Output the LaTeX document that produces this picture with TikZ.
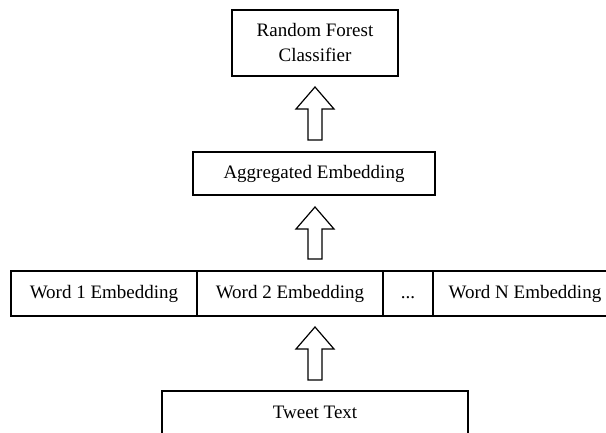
\documentclass[tikz,border=0pt]{standalone}
\usepackage{fontspec}
\setmainfont{Liberation Serif}
\usetikzlibrary{positioning,calc}
\tikzset{
  box/.style={draw,line width=1.2pt,outer sep=0pt,inner sep=2pt,align=center},
  cell/.style={box,minimum height=45pt,text height=13pt,text depth=4pt},
  hollowup/.style={draw,line width=1.2pt,line join=miter,
    to path={($(\tikztostart)+(-7,0)$) -- ($(\tikztotarget)+(-7,-22)$)
      -- ($(\tikztotarget)+(-19,-22)$) -- (\tikztotarget)
      -- ($(\tikztotarget)+(19,-22)$) -- ($(\tikztotarget)+(7,-22)$)
      -- ($(\tikztostart)+(7,0)$) -- cycle}}
}
\begin{document}
\begin{tikzpicture}[x=1pt,y=1pt,font=\fontsize{19}{25}\selectfont]
  \useasboundingbox (0,0) rectangle (606,432);
  % top: classifier and the aggregated vector
  \node[box,minimum width=166pt,minimum height=66pt] (rf) at (315,389) {Random Forest\\Classifier};
  \node[box,minimum width=242pt,minimum height=43pt] (agg) at (314,258.5) {Aggregated Embedding};
  % ---------- row of word embeddings ----------
  \node[cell,minimum width=186pt] (w1) at (104,138.5) {Word 1 Embedding};
  \node[cell,minimum width=186pt,right=0pt of w1] (w2) {Word 2 Embedding};
  \node[cell,minimum width=50pt,right=0pt of w2] (dots) {...};
  \node[cell,minimum width=184pt,right=0pt of dots] (wN) {Word N Embedding};
  % input
  \node[cell,minimum width=306pt] (tweet) at (315,18.5) {Tweet Text};
  % hollow arrows between the layers
  \draw[hollowup] ($(tweet.north)+(0,11)$) to ($(w2.south -| tweet.north)+(0,-11)$);
  \draw[hollowup] ($(w2.north -| tweet.north)+(0,12)$) to ($(agg.south -| tweet.north)+(0,-12)$);
  \draw[hollowup] ($(agg.north -| tweet.north)+(0,12)$) to ($(rf.south -| tweet.north)+(0,-11)$);
\end{tikzpicture}
\end{document}
